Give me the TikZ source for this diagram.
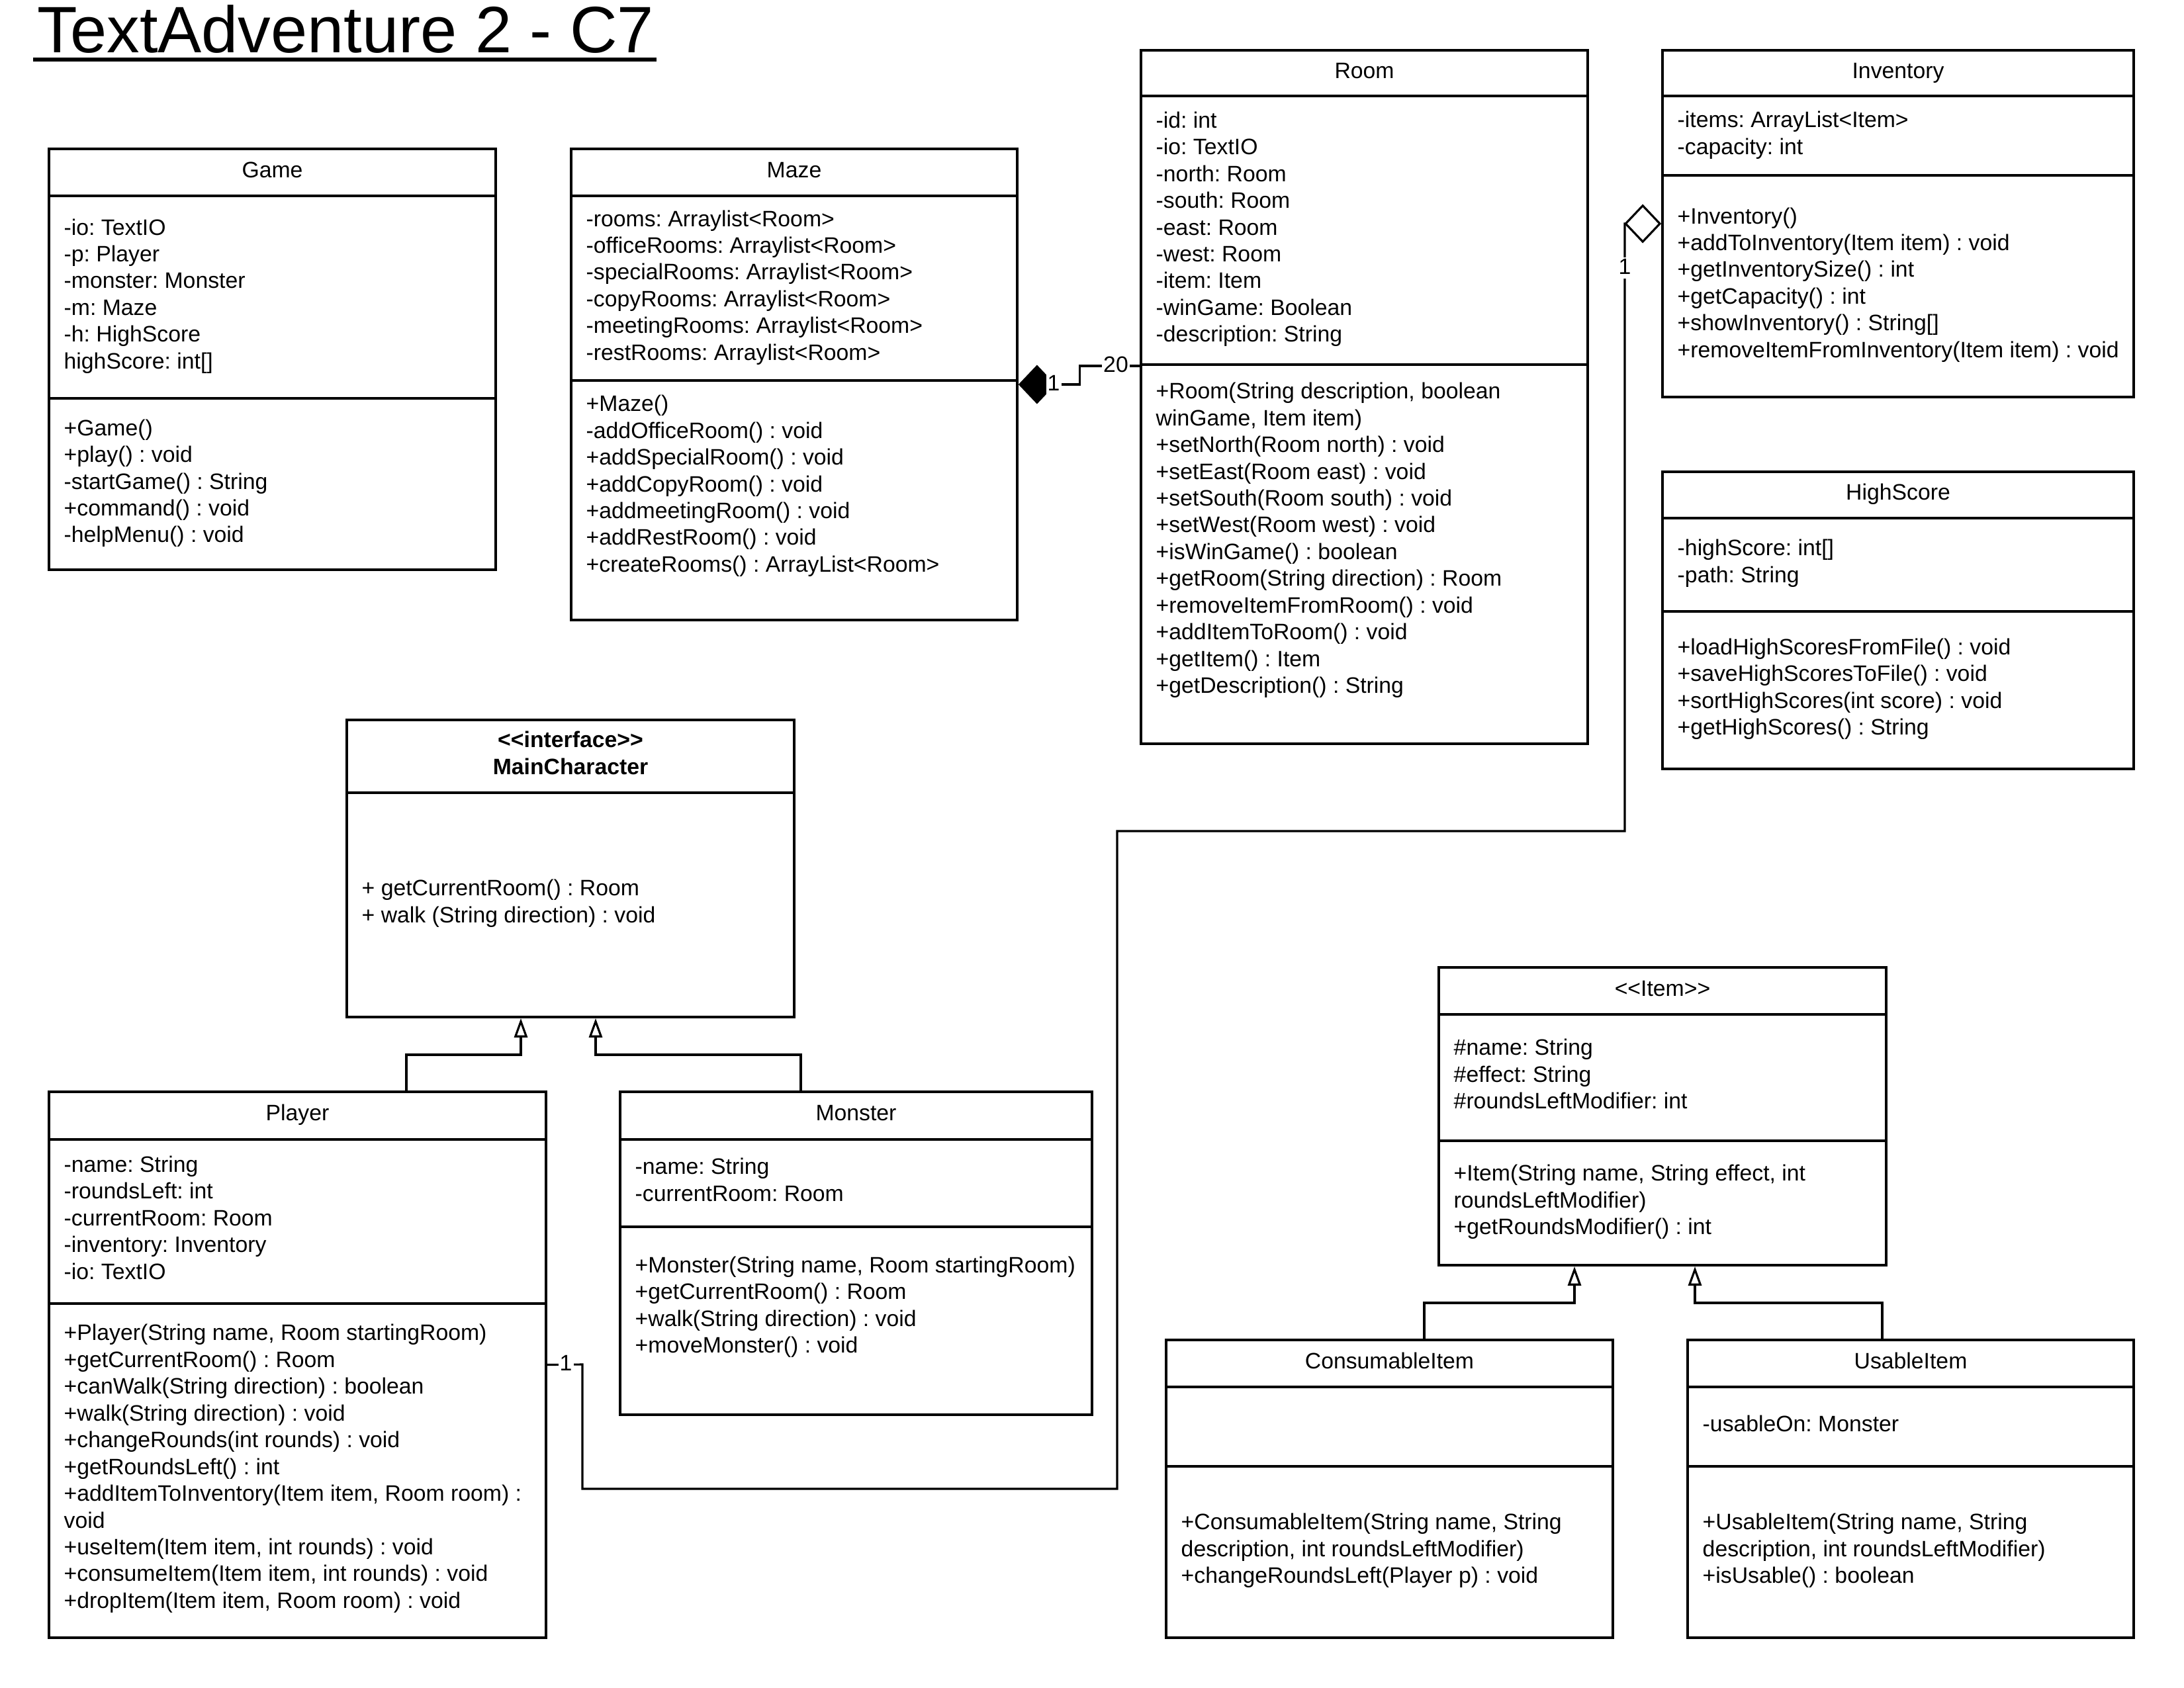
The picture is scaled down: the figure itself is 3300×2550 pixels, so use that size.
\documentclass[tikz,border=0pt]{standalone}
\usepackage{fontspec}
\setmainfont{Liberation Sans}
\usetikzlibrary{fit,arrows.meta,calc}

\newcommand\bodyfont{\fontsize{9.6pt}{11.5pt}\selectfont\frenchspacing}
\newcommand\txtlines[1]{\begin{tabular}{@{}l@{}}#1\end{tabular}}

\tikzset{
  box/.style={draw, line width=1.05pt, inner sep=0pt},
  sepline/.style={line width=1.05pt},
  ttl/.style={anchor=base, inner sep=0pt, font=\bodyfont},
  txt/.style={anchor=west, inner sep=0pt, font=\bodyfont},
  lbl/.style={fill=white, inner xsep=0.6pt, inner ysep=0.5pt, text height=6.8pt, text depth=1.5pt, font=\bodyfont},
  inh/.style={line width=0.9pt, -{Triangle[open, length=0.29cm, width=0.2cm]}},
  comp/.style={line width=0.9pt, {Diamond[length=0.56cm, width=0.59cm]}-},
  aggr/.style={line width=0.9pt, {Diamond[open, length=0.56cm, width=0.59cm]}-},
}

% class frame: name, left, top, right, bottom, header line, title
\newcommand\umlclass[7]{%
  \node[box, fit={(#2,#3) (#4,#5)}] (#1) {};
  \draw[sepline] (#2,#6) -- (#4,#6);
  \node[ttl] (#1-name) at ({(#2+#4)/2},{(#3+#6)/2+7.5}) {#7};
}

\begin{document}
\begin{tikzpicture}[x=0.01cm, y=-0.01cm]
\fill[white] (0,0) rectangle (3300,2550);
\useasboundingbox (0,0) rectangle (3300,2550);

% heading
\node[anchor=base west, inner sep=0pt, font=\fontsize{28.2pt}{34pt}\selectfont] (title) at (56,79) {TextAdventure 2 - C7};
\draw[line width=0.06cm] ($(title.base west)+(-6,11)$) -- ($(title.base east)+(3,11)$);

% Game
\umlclass{game}{74}{225}{749}{861}{296}{Game}
\draw[sepline] (74,602) -- (749,602);
\node[txt] (game-attr) at (96,448) {\txtlines{-io: TextIO\\-p: Player\\-monster: Monster\\-m: Maze\\-h: HighScore\\highScore: int[]}};
\node[txt] (game-ops) at (96,731) {\txtlines{+Game()\\+play() : void\\-startGame() : String\\+command() : void\\-helpMenu() : void}};

% Maze
\umlclass{maze}{863}{225}{1537}{937}{296}{Maze}
\draw[sepline] (863,575) -- (1537,575);
\node[txt] (maze-attr) at (885,435) {\txtlines{-rooms: Arraylist<Room>\\-officeRooms: Arraylist<Room>\\-specialRooms: Arraylist<Room>\\-copyRooms: Arraylist<Room>\\-meetingRooms: Arraylist<Room>\\-restRooms: Arraylist<Room>}};
\node[txt] (maze-ops) at (885,735) {\txtlines{+Maze()\\-addOfficeRoom() : void\\+addSpecialRoom() : void\\+addCopyRoom() : void\\+addmeetingRoom() : void\\+addRestRoom() : void\\+createRooms() : ArrayList<Room>}};

% Room
\umlclass{room}{1724}{76}{2399}{1124}{145}{Room}
\draw[sepline] (1724,551) -- (2399,551);
\node[txt] (room-attr) at (1746,347) {\txtlines{-id: int\\-io: TextIO\\-north: Room\\-south: Room\\-east: Room\\-west: Room\\-item: Item\\-winGame: Boolean\\-description: String}};
\node[txt] (room-ops) at (1746,817) {\txtlines{+Room(String description, boolean\\winGame, Item item)\\+setNorth(Room north) : void\\+setEast(Room east) : void\\+setSouth(Room south) : void\\+setWest(Room west) : void\\+isWinGame() : boolean\\+getRoom(String direction) : Room\\+removeItemFromRoom() : void\\+addItemToRoom() : void\\+getItem() : Item\\+getDescription() : String}};

% Inventory
\umlclass{inv}{2512}{76}{3224}{600}{145}{Inventory}
\draw[sepline] (2512,265) -- (3224,265);
\node[txt] (inv-attr) at (2534,205) {\txtlines{-items: ArrayList<Item>\\-capacity: int}};
\node[txt] (inv-ops) at (2534,431) {\txtlines{+Inventory()\\+addToInventory(Item item) : void\\+getInventorySize() : int\\+getCapacity() : int\\+showInventory() : String[]\\+removeItemFromInventory(Item item) : void}};

% HighScore
\umlclass{hs}{2512}{713}{3224}{1162}{783}{HighScore}
\draw[sepline] (2512,924) -- (3224,924);
\node[txt] (hs-attr) at (2534,852) {\txtlines{-highScore: int[]\\-path: String}};
\node[txt] (hs-ops) at (2534,1042) {\txtlines{+loadHighScoresFromFile() : void\\+saveHighScoresToFile() : void\\+sortHighScores(int score) : void\\+getHighScores() : String}};

% MainCharacter interface
\node[box, fit={(524,1088) (1200,1537)}] (mc) {};
\draw[sepline] (524,1198) -- (1200,1198);
\node[anchor=center, inner sep=0pt, font=\bodyfont\bfseries] (mc-name) at (862,1142) {\begin{tabular}{@{}c@{}}<{}<interface>{}>\\MainCharacter\end{tabular}};
\node[txt] (mc-ops) at (546,1366) {\txtlines{+ getCurrentRoom() : Room\\+ walk (String direction) : void}};

% Player
\umlclass{player}{74}{1650}{825}{2475}{1722}{Player}
\draw[sepline] (74,1970) -- (825,1970);
\node[txt] (player-attr) at (96,1844) {\txtlines{-name: String\\-roundsLeft: int\\-currentRoom: Room\\-inventory: Inventory\\-io: TextIO}};
\node[txt] (player-ops) at (96,2220) {\txtlines{+Player(String name, Room startingRoom)\\+getCurrentRoom() : Room\\+canWalk(String direction) : boolean\\+walk(String direction) : void\\+changeRounds(int rounds) : void\\+getRoundsLeft() : int\\+addItemToInventory(Item item, Room room) :\\void\\+useItem(Item item, int rounds) : void\\+consumeItem(Item item, int rounds) : void\\+dropItem(Item item, Room room) : void}};

% Monster
\umlclass{monster}{937}{1650}{1650}{2138}{1722}{Monster}
\draw[sepline] (937,1854) -- (1650,1854);
\node[txt] (monster-attr) at (959,1787) {\txtlines{-name: String\\-currentRoom: Room}};
\node[txt] (monster-ops) at (959,1976) {\txtlines{+Monster(String name, Room startingRoom)\\+getCurrentRoom() : Room\\+walk(String direction) : void\\+moveMonster() : void}};

% Item
\umlclass{item}{2174}{1462}{2850}{1912}{1533}{<{}<Item>{}>}
\draw[sepline] (2174,1724) -- (2850,1724);
\node[txt] (item-attr) at (2196,1627) {\txtlines{\#name: String\\\#effect: String\\\#roundsLeftModifier: int}};
\node[txt] (item-ops) at (2196,1817) {\txtlines{+Item(String name, String effect, int\\roundsLeftModifier)\\+getRoundsModifier() : int}};

% ConsumableItem
\umlclass{cons}{1762}{2025}{2437}{2475}{2096}{ConsumableItem}
\draw[sepline] (1762,2216) -- (2437,2216);
\node[txt] (cons-ops) at (1784,2344) {\txtlines{+ConsumableItem(String name, String\\description, int roundsLeftModifier)\\+changeRoundsLeft(Player p) : void}};

% UsableItem
\umlclass{usable}{2550}{2025}{3224}{2475}{2096}{UsableItem}
\draw[sepline] (2550,2216) -- (3224,2216);
\node[txt] (usable-attr) at (2572,2155) {\txtlines{-usableOn: Monster}};
\node[txt] (usable-ops) at (2572,2344) {\txtlines{+UsableItem(String name, String\\description, int roundsLeftModifier)\\+isUsable() : boolean}};

% Maze composes Rooms
\draw[comp] (maze.east) -- ++(93,0) |- (room.west |- 0,553);
\node[lbl] (comp-src) at (1592,581) {1};
\node[lbl] (comp-dst) at (1686,553) {20};

% Inventory aggregation towards Player
\draw[aggr] (inv.west) -- (2455,338) -- (2455,1256) -- (1688,1256) -- (1688,2250) -- (880,2250) -- (880,2062) -- (player.east);
\node[lbl] (aggr-src) at (2455,405) {1};
\node[lbl] (aggr-dst) at (855,2062) {1};

% realisations / generalisations
\draw[inh] (player.north -| 614,0) |- (787,1594) -- (mc.south -| 787,0);
\draw[inh] (monster.north -| 1210,0) |- (900,1594) -- (mc.south -| 900,0);
\draw[inh] (cons.north -| 2152,0) |- (2379,1969) -- (item.south -| 2379,0);
\draw[inh] (usable.north -| 2844,0) |- (2561,1969) -- (item.south -| 2561,0);
\end{tikzpicture}
\end{document}
